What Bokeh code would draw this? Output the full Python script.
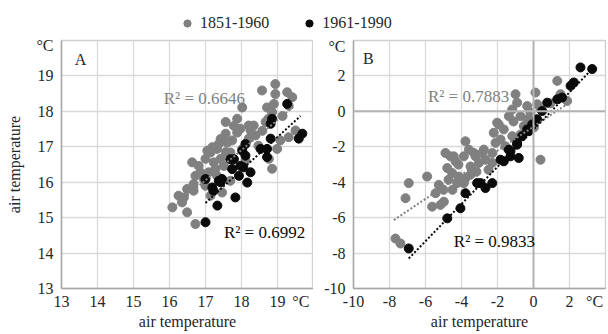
from bokeh.plotting import figure
from bokeh.layouts import column, row
from bokeh.models import FixedTicker, Label, Span, Legend, LegendItem, Range1d
from bokeh.embed import file_html
from bokeh.resources import INLINE

FONT = "Liberation Serif"
GRAY = "#808080"
BLACK = "#0a0a0a"
TXT = "#262626"

series_names = ["1851-1960", "1961-1990"]
unit_label = "°C"

# ---- Panel A data ----
a_gray_x = [16.08, 16.35, 16.40, 16.49, 16.72, 16.49, 16.67, 16.67, 16.63, 16.86, 16.95, 17.09, 17.14, 17.32,
            17.23, 17.32, 17.51, 17.60, 17.69, 17.46, 17.88, 17.19, 17.37, 17.56, 17.74, 17.56, 17.88, 18.02,
            18.20, 18.34, 18.20, 18.39, 18.02, 17.56, 17.00, 17.28, 17.74, 18.67, 18.57, 18.94, 18.94, 19.27,
            19.41, 18.90, 19.31, 18.85, 19.50, 19.08, 19.31, 18.99, 18.76, 18.85, 18.71, 18.25, 17.79, 17.05,
            16.81, 17.42, 18.11, 18.47, 18.58, 17.97, 17.00, 16.25, 17.14, 17.69, 18.75, 19.14, 16.72, 17.42]
a_gray_y = [15.29, 15.43, 15.57, 15.15, 14.82, 15.81, 15.76, 15.95, 16.56, 16.28, 16.09, 16.28, 16.84, 16.94,
            16.56, 16.18, 16.46, 17.12, 16.84, 15.71, 17.40, 16.99, 17.08, 17.37, 17.18, 17.70, 17.79, 18.11,
            17.60, 17.60, 17.23, 17.32, 16.94, 16.85, 16.66, 16.38, 16.38, 17.70, 18.59, 18.77, 18.49, 18.54,
            18.40, 18.21, 18.16, 17.98, 17.46, 17.18, 17.27, 16.94, 16.66, 16.38, 18.11, 17.46, 17.59, 16.89,
            16.46, 16.66, 16.61, 17.03, 17.45, 17.51, 15.90, 15.62, 15.62, 16.04, 17.79, 17.87, 16.18, 17.22]
a_black_x = [17.00, 17.33, 17.83, 18.16, 17.00, 17.19, 17.37, 17.46, 17.69, 17.79, 17.97, 17.93, 18.02, 17.74,
             18.25, 18.11, 18.11, 18.53, 18.71, 18.71, 18.81, 18.81, 18.85, 19.27, 19.69, 19.59, 17.42, 18.05, 17.22]
a_black_y = [14.87, 15.34, 15.57, 15.99, 16.09, 15.85, 16.04, 16.09, 16.65, 16.65, 16.46, 16.18, 16.89, 16.37,
             16.28, 16.75, 17.08, 16.94, 16.94, 16.71, 17.23, 17.65, 17.79, 18.21, 17.37, 17.23, 16.00, 16.42, 15.76]

# trend lines: [x_start, x_end], slope, intercept
a_gray_trend_x = [16.07, 19.44]
a_gray_slope, a_gray_icpt = 0.85, 1.606
a_black_trend_x = [17.0, 19.64]
a_black_slope, a_black_icpt = 0.93, -0.395
a_r2 = ["R² = 0.6646", "R² = 0.6992"]

# ---- Panel B data ----
b_gray_x = [-7.67, -7.39, -7.11, -6.93, -5.91, -5.63, -5.17, -4.98, -5.44, -5.26, -4.89, -4.61, -4.33, -4.79,
            -4.52, -4.15, -3.78, -4.24, -3.87, -3.78, -3.59, -3.22, -2.85, -3.50, -3.04, -2.67, -2.29, -2.11,
            -2.29, -4.43, -3.87, -3.31, -2.76, -2.21, -1.93, -1.65, -1.37, -1.18, -0.91, -1.00, 0.11, -0.35,
            -0.72, -0.17, 0.21, 0.39, 0.39, -1.56, -1.18, -0.54, 1.32, 1.87, 0.11, 0.02, -2.02, -1.11, -2.50,
            -3.17, -4.72, -4.50, -3.50, -1.83, -0.72, 0.94, 1.50, -0.33, -1.39, -5.00, -4.17]
b_gray_y = [-7.18, -7.46, -4.90, -4.05, -3.68, -5.38, -5.28, -5.10, -4.62, -4.15, -2.35, -2.54, -2.82, -3.20,
            -3.48, -3.68, -3.77, -4.05, -4.05, -1.69, -2.16, -2.54, -2.35, -3.11, -2.91, -2.73, -2.35, -1.78,
            -2.91, -2.54, -2.54, -2.35, -2.16, -1.21, -0.74, -1.02, -0.27, 0.11, 0.49, 0.97, 1.06, 0.30,
            -0.27, -0.07, 0.40, 0.11, -2.73, -1.97, -1.40, -0.83, 1.72, 0.59, -0.45, -0.91, -0.64, -0.57, -3.30,
            -3.41, -3.86, -4.43, -3.58, -1.59, -1.31, 0.45, 0.97, -0.45, -2.16, -4.43, -3.01]
b_black_x = [-6.93, -4.79, -4.06, -3.78, -2.94, -2.67, -2.29, -3.13, -1.65, -1.28, -0.82, -1.28, -0.91, -0.63,
             -0.26, -0.07, 0.21, 0.48, 0.76, 2.61, 3.26, 2.24, 2.06, 1.59, 1.32, -1.83, -0.35, -0.91, -1.37]
b_black_y = [-7.74, -6.04, -5.47, -4.62, -4.05, -4.33, -4.05, -4.05, -2.82, -2.54, -2.63, -2.26, -1.88, -1.40,
             -1.12, -0.74, -0.45, 0.02, 0.49, 2.48, 2.39, 1.63, 1.44, 0.78, 0.68, -2.73, -1.02, -1.78, -2.16]

b_gray_trend_x = [-7.76, 1.87]
b_gray_slope, b_gray_icpt = 0.68, -0.86
b_black_trend_x = [-6.93, 3.26]
b_black_slope, b_black_icpt = 1.05, -1.03
b_r2 = ["R² = 0.7883", "R² = 0.9833"]


def trend(xs, m, c):
    return [m * x + c for x in xs]


def make_panel(xr, yr, step, unit_x, unit_y, width, border_left, border_right, ylabel):
    p = figure(width=width, height=302, x_range=Range1d(*xr), y_range=Range1d(*yr),
               output_backend="svg", toolbar_location=None,
               min_border_left=border_left, min_border_right=border_right,
               min_border_top=8, min_border_bottom=46)
    xt = list(range(xr[0], xr[1] + 1, step))
    yt = list(range(yr[0], yr[1] + 1, step))
    # grid at every tick, axis labels at every tick except the last, plus unit label
    p.xgrid.ticker = FixedTicker(ticks=xt)
    p.ygrid.ticker = FixedTicker(ticks=yt)
    p.xaxis.ticker = FixedTicker(ticks=xt[:-1] + [unit_x])
    p.yaxis.ticker = FixedTicker(ticks=yt[:-1] + [unit_y])
    xo = {t: str(t) for t in xt[:-1]}
    xo[unit_x] = unit_label
    yo = {t: str(t) for t in yt[:-1]}
    yo[unit_y] = unit_label
    p.xaxis.major_label_overrides = xo
    p.yaxis.major_label_overrides = yo
    for ax in (p.xaxis[0], p.yaxis[0]):
        ax.major_tick_line_color = None
        ax.minor_tick_line_color = None
        ax.major_tick_out = 0
        ax.major_tick_in = 0
        ax.axis_line_color = "#a6a6a6"
        ax.axis_line_width = 1.5
        ax.major_label_text_font = FONT
        ax.major_label_text_font_size = "16px"
        ax.major_label_text_color = TXT
        ax.axis_label_text_font = FONT
        ax.axis_label_text_font_size = "16px"
        ax.axis_label_text_font_style = "normal"
        ax.axis_label_text_color = TXT
    p.xaxis.major_label_standoff = 4
    p.yaxis.major_label_standoff = 8
    p.xaxis.axis_label = "air temperature"
    p.xaxis.axis_label_standoff = 0
    if ylabel:
        p.yaxis.axis_label = "air temperature"
        p.yaxis.axis_label_standoff = 10
    p.grid.grid_line_color = "#d9d9d9"
    p.grid.grid_line_width = 1.3
    p.outline_line_color = "#d0d0d0"
    p.outline_line_width = 1.3
    p.background_fill_color = "white"
    p.border_fill_color = "white"
    return p


def add_text(p, x, y, text, color, size):
    p.add_layout(Label(x=x, y=y, text=text, text_font=FONT, text_font_size=size, text_color=color,
                       text_align="center", text_baseline="middle"))


# Panel A
pA = make_panel((13, 20), (13, 20), 1, 19.65, 19.86, 313, 61, 0, True)
pA.scatter(a_gray_x, a_gray_y, size=9, color=GRAY)
pA.scatter(a_black_x, a_black_y, size=9, color=BLACK)
pA.line(a_gray_trend_x, trend(a_gray_trend_x, a_gray_slope, a_gray_icpt), line_color=GRAY,
        line_width=2, line_dash="2 2")
pA.line(a_black_trend_x, trend(a_black_trend_x, a_black_slope, a_black_icpt), line_color=BLACK,
        line_width=2, line_dash="2 2")
add_text(pA, 13.53, 19.46, "A", TXT, "16px")
add_text(pA, 16.97, 18.37, a_r2[0], GRAY, "17px")
add_text(pA, 18.64, 14.58, a_r2[1], BLACK, "17px")

# Panel B
pB = make_panel((-10, 4), (-10, 4), 2, 3.39, 3.66, 295, 40, 3, False)
pB.add_layout(Span(location=0, dimension="width", line_color="#b3b3b3", line_width=2))
pB.add_layout(Span(location=0, dimension="height", line_color="#b3b3b3", line_width=2))
pB.scatter(b_gray_x, b_gray_y, size=9, color=GRAY)
pB.scatter(b_black_x, b_black_y, size=9, color=BLACK)
pB.line(b_gray_trend_x, trend(b_gray_trend_x, b_gray_slope, b_gray_icpt), line_color=GRAY,
        line_width=2, line_dash="2 2")
pB.line(b_black_trend_x, trend(b_black_trend_x, b_black_slope, b_black_icpt), line_color=BLACK,
        line_width=2, line_dash="2 2")
add_text(pB, -9.17, 2.98, "B", TXT, "16px")
add_text(pB, -3.61, 0.82, b_r2[0], GRAY, "17px")
add_text(pB, -2.17, -7.33, b_r2[1], BLACK, "17px")

# Legend strip (series renderers lie outside this strip's visible range; only the legend shows)
pL = figure(width=608, height=32, x_range=(0, 1), y_range=(0, 1), output_backend="svg",
            toolbar_location=None, x_axis_location=None, y_axis_location=None,
            min_border=0, outline_line_color=None)
pL.grid.visible = False
r1 = pL.scatter(a_gray_x, a_gray_y, size=7, color=GRAY)
r2 = pL.scatter(a_black_x, a_black_y, size=7, color=BLACK)
leg = Legend(items=[LegendItem(label=series_names[0], renderers=[r1], index=0),
                    LegendItem(label=series_names[1], renderers=[r2], index=0)],
             orientation="horizontal", location=(178, 0), padding=0, spacing=31,
             glyph_width=18, glyph_height=18, label_height=18, label_standoff=4,
             label_text_font=FONT, label_text_font_size="16px", label_text_color=TXT,
             label_text_baseline="middle", border_line_color=None, background_fill_alpha=0)
pL.add_layout(leg, "center")

layout = column(pL, row(pA, pB, spacing=0), spacing=0)
open("out.html", "w").write(file_html(layout, INLINE))
